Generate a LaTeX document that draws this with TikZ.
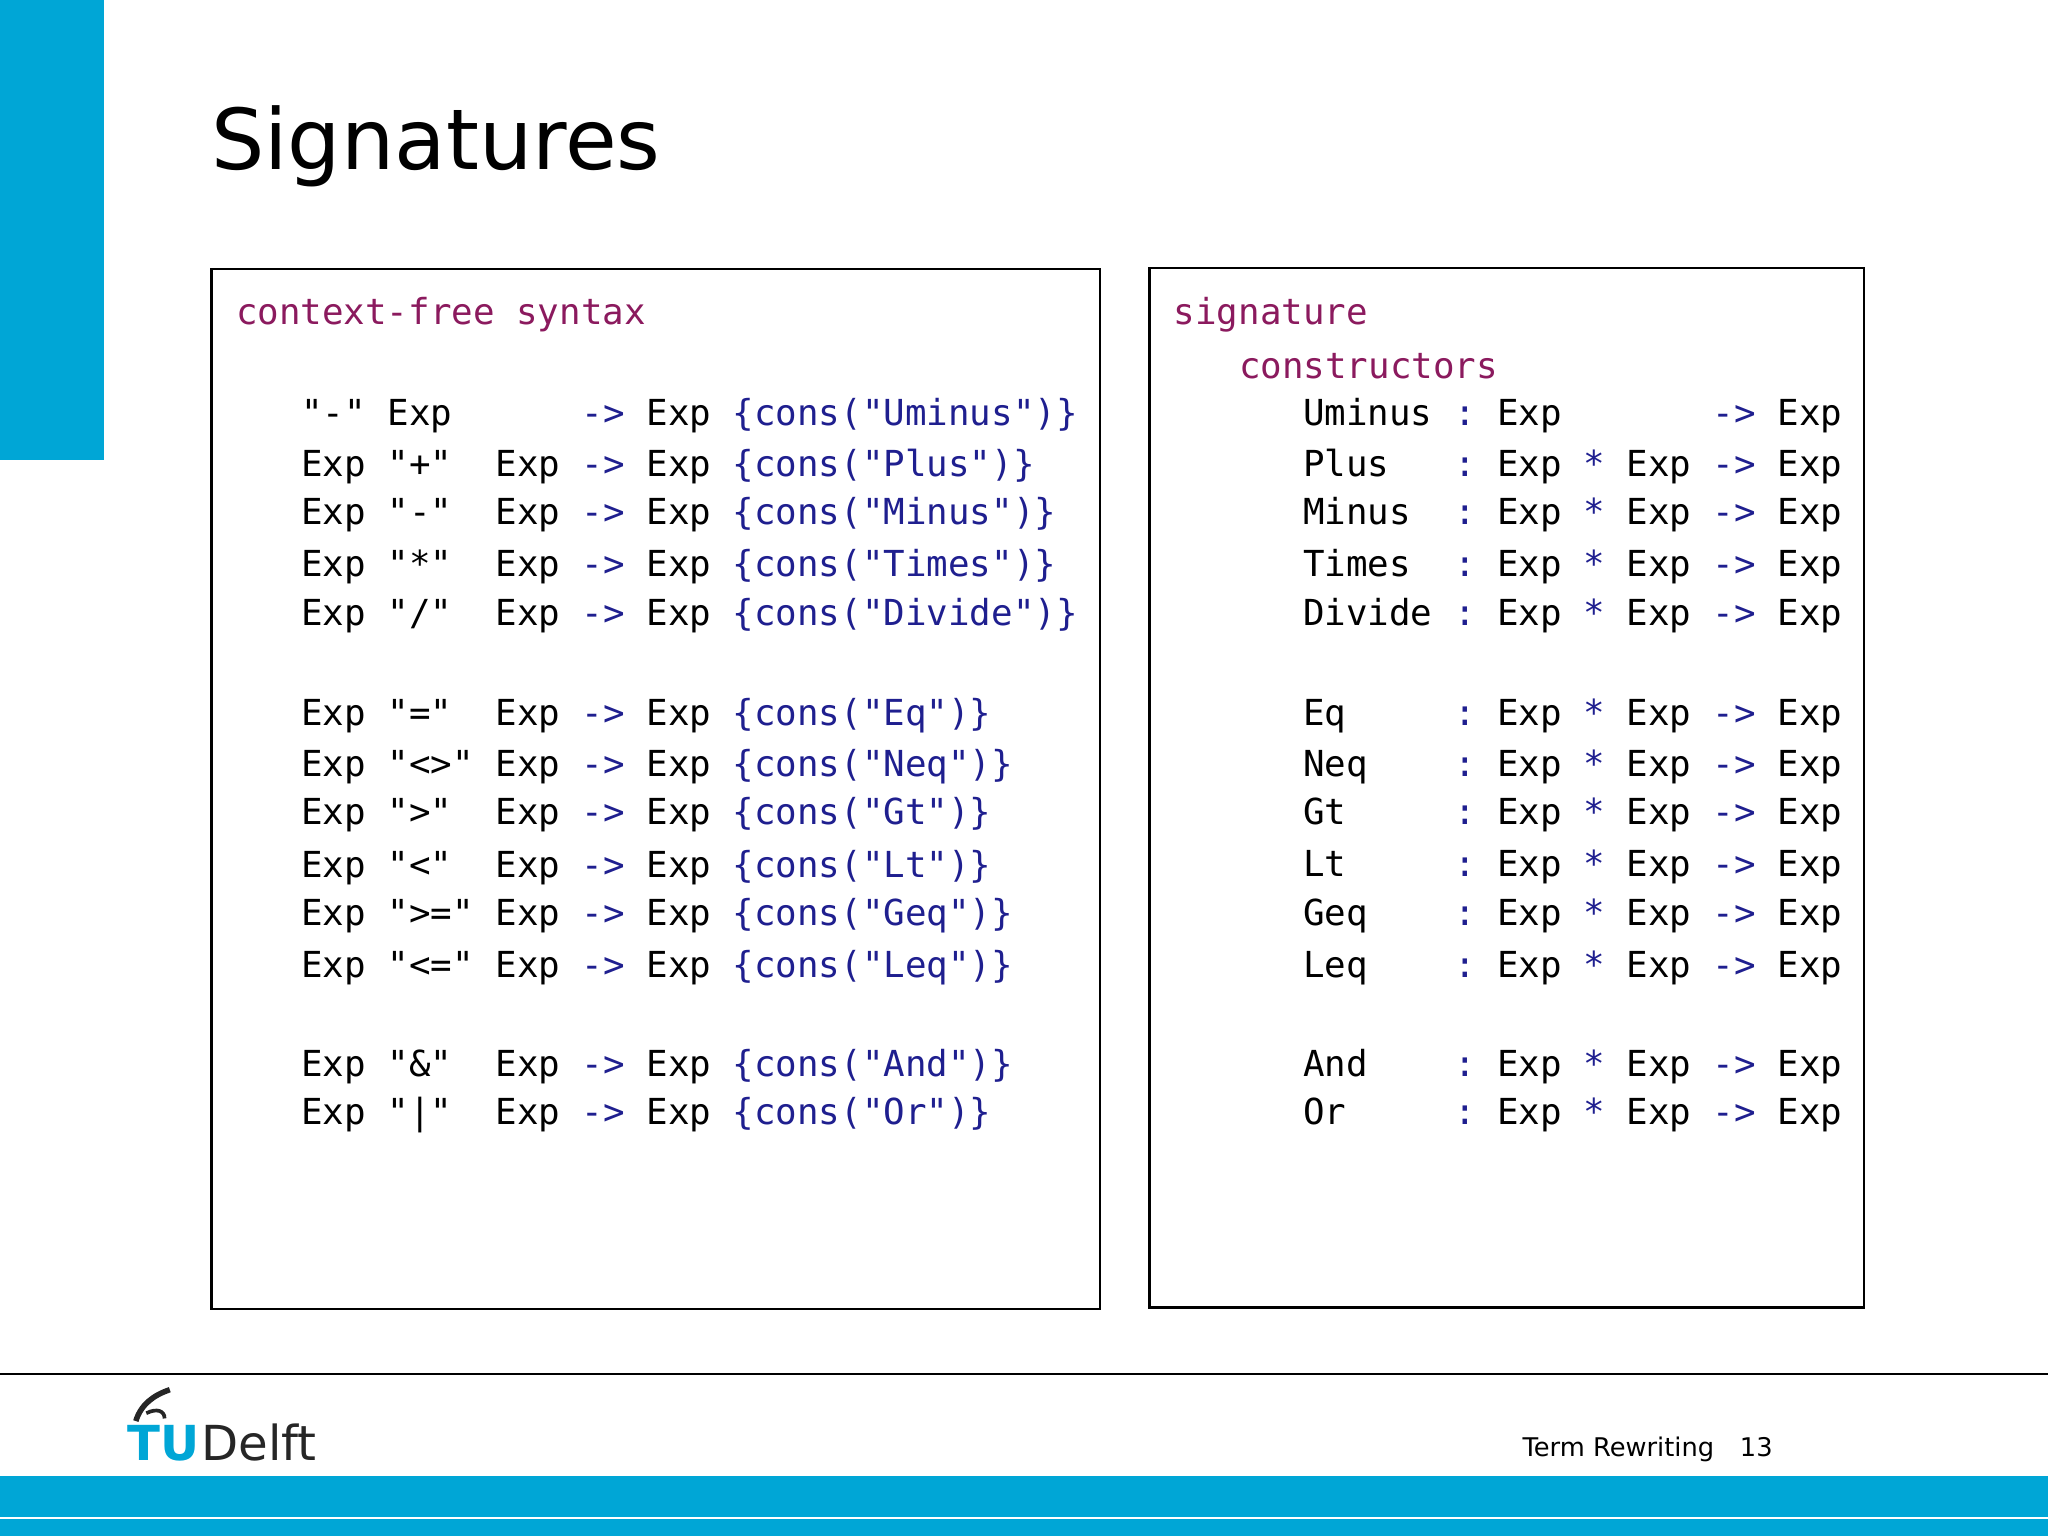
\documentclass[tikz,border=0pt]{standalone}
\usepackage{fontspec}
\setmainfont{DejaVu Sans}
\setmonofont{DejaVu Sans Mono}
\definecolor{tublue}{HTML}{00A6D6}
\definecolor{kw}{HTML}{8B1A5E}
\definecolor{nv}{HTML}{1F1F8F}
\newcommand{\Ar}{\textcolor{nv}{->}}
\newcommand{\Cn}[1]{\textcolor{nv}{\{cons(#1)\}}}
\newcommand{\St}{\textcolor{nv}{*}}
\newcommand{\Co}{\textcolor{nv}{:}}
\begin{document}
\begin{tikzpicture}[x=0.01cm,y=-0.01cm,
  code/.style={anchor=west,inner sep=0pt,font=\fontsize{7.8pt}{9pt}\ttfamily},
  box/.style={draw,line width=0.5pt}]
\useasboundingbox (0,0) rectangle (1568,1176);
\fill[tublue] (0,0) rectangle (80,352);
\node[anchor=base west,inner sep=0pt,font=\fontsize{18.3pt}{22pt}\selectfont] (title) at (161,130) {Signatures};
\draw[box] (162,206) rectangle (842,1002);
\draw[box] (880,205) rectangle (1427,1001);
% left
\node[code,text=kw] (lh) at (180,241) {context-free~syntax};
\node[code] (l1) at (230,318) {"-"~Exp~~~~~~\Ar{}~Exp~\Cn{"Uminus"}};
\node[code] (l2) at (230,357) {Exp~"+"~~Exp~\Ar{}~Exp~\Cn{"Plus"}};
\node[code] (l3) at (230,394) {Exp~"-"~~Exp~\Ar{}~Exp~\Cn{"Minus"}};
\node[code] (l4) at (230,434) {Exp~"*"~~Exp~\Ar{}~Exp~\Cn{"Times"}};
\node[code] (l5) at (230,471) {Exp~"/"~~Exp~\Ar{}~Exp~\Cn{"Divide"}};
\node[code] (l6) at (230,548) {Exp~"="~~Exp~\Ar{}~Exp~\Cn{"Eq"}};
\node[code] (l7) at (230,587) {Exp~"<>"~Exp~\Ar{}~Exp~\Cn{"Neq"}};
\node[code] (l8) at (230,624) {Exp~">"~~Exp~\Ar{}~Exp~\Cn{"Gt"}};
\node[code] (l9) at (230,664) {Exp~"<"~~Exp~\Ar{}~Exp~\Cn{"Lt"}};
\node[code] (l10) at (230,701) {Exp~">="~Exp~\Ar{}~Exp~\Cn{"Geq"}};
\node[code] (l11) at (230,741) {Exp~"<="~Exp~\Ar{}~Exp~\Cn{"Leq"}};
\node[code] (l12) at (230,817) {Exp~"\&"~~Exp~\Ar{}~Exp~\Cn{"And"}};
\node[code] (l13) at (230,854) {Exp~"|"~~Exp~\Ar{}~Exp~\Cn{"Or"}};
% right
\node[code,text=kw] (rh) at (898,241) {signature};
\node[code,text=kw] (rc) at (948,280) {constructors};
\node[code] (r1) at (997,318) {Uminus~\Co{}~Exp~~~~~~~\Ar{}~Exp};
\node[code] (r2) at (997,357) {Plus~~~\Co{}~Exp~\St{}~Exp~\Ar{}~Exp};
\node[code] (r3) at (997,394) {Minus~~\Co{}~Exp~\St{}~Exp~\Ar{}~Exp};
\node[code] (r4) at (997,434) {Times~~\Co{}~Exp~\St{}~Exp~\Ar{}~Exp};
\node[code] (r5) at (997,471) {Divide~\Co{}~Exp~\St{}~Exp~\Ar{}~Exp};
\node[code] (r6) at (997,548) {Eq~~~~~\Co{}~Exp~\St{}~Exp~\Ar{}~Exp};
\node[code] (r7) at (997,587) {Neq~~~~\Co{}~Exp~\St{}~Exp~\Ar{}~Exp};
\node[code] (r8) at (997,624) {Gt~~~~~\Co{}~Exp~\St{}~Exp~\Ar{}~Exp};
\node[code] (r9) at (997,664) {Lt~~~~~\Co{}~Exp~\St{}~Exp~\Ar{}~Exp};
\node[code] (r10) at (997,701) {Geq~~~~\Co{}~Exp~\St{}~Exp~\Ar{}~Exp};
\node[code] (r11) at (997,741) {Leq~~~~\Co{}~Exp~\St{}~Exp~\Ar{}~Exp};
\node[code] (r12) at (997,817) {And~~~~\Co{}~Exp~\St{}~Exp~\Ar{}~Exp};
\node[code] (r13) at (997,854) {Or~~~~~\Co{}~Exp~\St{}~Exp~\Ar{}~Exp};
% footer
\draw[line width=0.6pt] (0,1052) -- (1568,1052);
\fill[tublue] (0,1130) rectangle (1568,1176);
\draw[white,line width=0.5pt] (0,1162) -- (1568,1162);
\node[anchor=base west,inner sep=0pt,font=\fontsize{10.5pt}{12pt}\bfseries,text=tublue] (tu) at (97,1118) {TU};
\node[anchor=base west,inner sep=0pt,font=\fontsize{10.5pt}{12pt}\selectfont,text=black!85] (delft) at (tu.base east) {Delft};
\draw[line width=1.2pt,black!85] (104,1088) .. controls (108,1075) and (118,1068) .. (130,1064);
\draw[line width=0.8pt,black!85] (112,1082) .. controls (120,1078) and (126,1080) .. (126,1086);
\node[anchor=base west,inner sep=0pt,font=\fontsize{5.6pt}{7pt}\selectfont] (foot) at (1165,1115) {Term Rewriting\quad 13};
\end{tikzpicture}
\end{document}
